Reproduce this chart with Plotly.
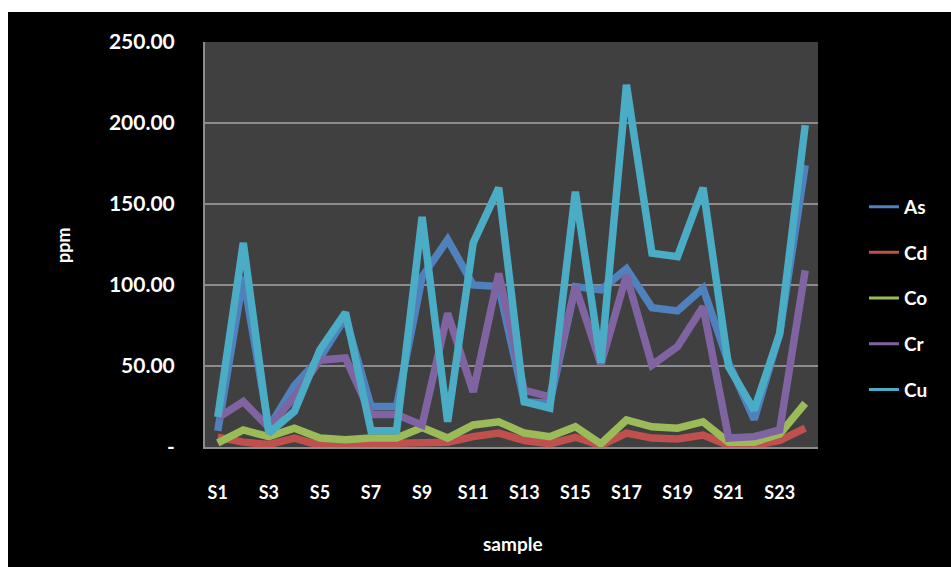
import plotly.graph_objects as go

samples = [f"S{i}" for i in range(1, 25)]
tick_samples = [f"S{i}" for i in range(1, 25, 2)]

As = [10, 105, 12, 38, 55, 80, 25, 25, 105, 128, 100, 99, 28, 27, 99, 97, 110, 86, 84, 98, 52, 17, 70, 174]
Cd = [6, 3, 1.5, 5.5, 1, 0.5, 2, 2, 3, 3, 6.4, 8.6, 4, 2, 6, 1, 8.6, 5.5, 5, 7.4, 1, 1, 4, 11.7]
Co = [2.5, 10.5, 6.4, 11.6, 5.5, 4.5, 5.5, 5.5, 12, 5.5, 13.6, 15.6, 8.6, 6.4, 12.5, 2, 16.7, 12.5, 11.6, 15.6, 3, 3, 8, 27]
Cr = [18, 28, 12, 31, 53.6, 55, 20, 20, 13.5, 82.5, 34, 107, 35, 31, 99, 51, 106, 50.6, 62, 86.6, 5.5, 6.4, 10.5, 109]
Cu = [18.5, 126, 8.6, 22, 60, 83, 10, 10, 142, 15.6, 126, 160, 28, 24, 157.6, 52, 223.5, 119.6, 117.5, 160, 49.6, 22.8, 70, 198.7]

series = {"As": As, "Cd": Cd, "Co": Co, "Cr": Cr, "Cu": Cu}
colors = {"As": "#4F81BD", "Cd": "#C0504D", "Co": "#9BBB59", "Cr": "#8064A2", "Cu": "#4BACC6"}

y_tickvals = [0, 50, 100, 150, 200, 250]
y_ticktext = ["-", "50.00", "100.00", "150.00", "200.00", "250.00"]

FONT = "Lato, 'Open Sans', sans-serif"

fig = go.Figure()
for name, vals in series.items():
    fig.add_trace(go.Scatter(
        x=samples, y=vals, mode="lines", name=name, legendgroup=name,
        line=dict(color=colors[name], width=7.5), showlegend=False,
    ))
for name in series:
    fig.add_trace(go.Scatter(
        x=[None], y=[None], mode="lines", name=name, legendgroup=name,
        line=dict(color=colors[name], width=3), showlegend=True,
    ))

fig.update_layout(
    width=951, height=567,
    margin=dict(l=205, r=133, t=42, b=120),
    paper_bgcolor="#000000",
    plot_bgcolor="#404040",
    font=dict(family=FONT, color="#FFFFFF", size=18, weight="bold"),
    showlegend=True,
    legend=dict(
        x=1.075, xanchor="left", y=0.64, yanchor="top",
        bgcolor="rgba(0,0,0,0)", font=dict(size=19, color="#FFFFFF", family=FONT, weight="bold"),
        tracegroupgap=18, itemclick=False, itemdoubleclick=False,
    ),
    xaxis=dict(
        type="category", categoryorder="array", categoryarray=samples,
        range=[-0.5, 23.5], tickvals=tick_samples, ticktext=tick_samples,
        showgrid=False, showline=True, linecolor="#8C8C8C", linewidth=2,
        ticks="", ticklabelstandoff=28,
        tickfont=dict(size=18, color="#FFFFFF", family=FONT, weight="bold"),
        zeroline=False, fixedrange=True,
    ),
    yaxis=dict(
        range=[0, 250], tickvals=y_tickvals, ticktext=y_ticktext,
        showgrid=True, gridcolor="#8C8C8C", gridwidth=2,
        showline=True, linecolor="#8C8C8C", linewidth=2,
        ticks="", ticklabelstandoff=24,
        tickfont=dict(size=21, color="#FFFFFF", family=FONT, weight="bold"),
        zeroline=False, fixedrange=True,
    ),
    annotations=[
        dict(text="ppm", xref="paper", yref="paper", x=(63 - 205) / 613, y=(447 - 245) / 405,
             showarrow=False, textangle=-90, xanchor="center", yanchor="middle",
             font=dict(size=18, color="#FFFFFF", family=FONT, weight="bold")),
        dict(text="sample", xref="paper", yref="paper", x=(513 - 205) / 613, y=(447 - 543) / 405,
             showarrow=False, xanchor="center", yanchor="middle",
             font=dict(size=19, color="#FFFFFF", family=FONT, weight="bold")),
    ],
    shapes=[
        dict(type="rect", xref="paper", yref="paper",
             x0=(0 - 205) / 613, x1=(951 - 205) / 613, y0=(447 - 12) / 405, y1=(447 - 0) / 405,
             fillcolor="#FFFFFF", line=dict(width=0), layer="above"),
        dict(type="rect", xref="paper", yref="paper",
             x0=(0 - 205) / 613, x1=(8 - 205) / 613, y0=(447 - 567) / 405, y1=(447 - 0) / 405,
             fillcolor="#FFFFFF", line=dict(width=0), layer="above"),
    ],
)

fig.write_html("out.html")
